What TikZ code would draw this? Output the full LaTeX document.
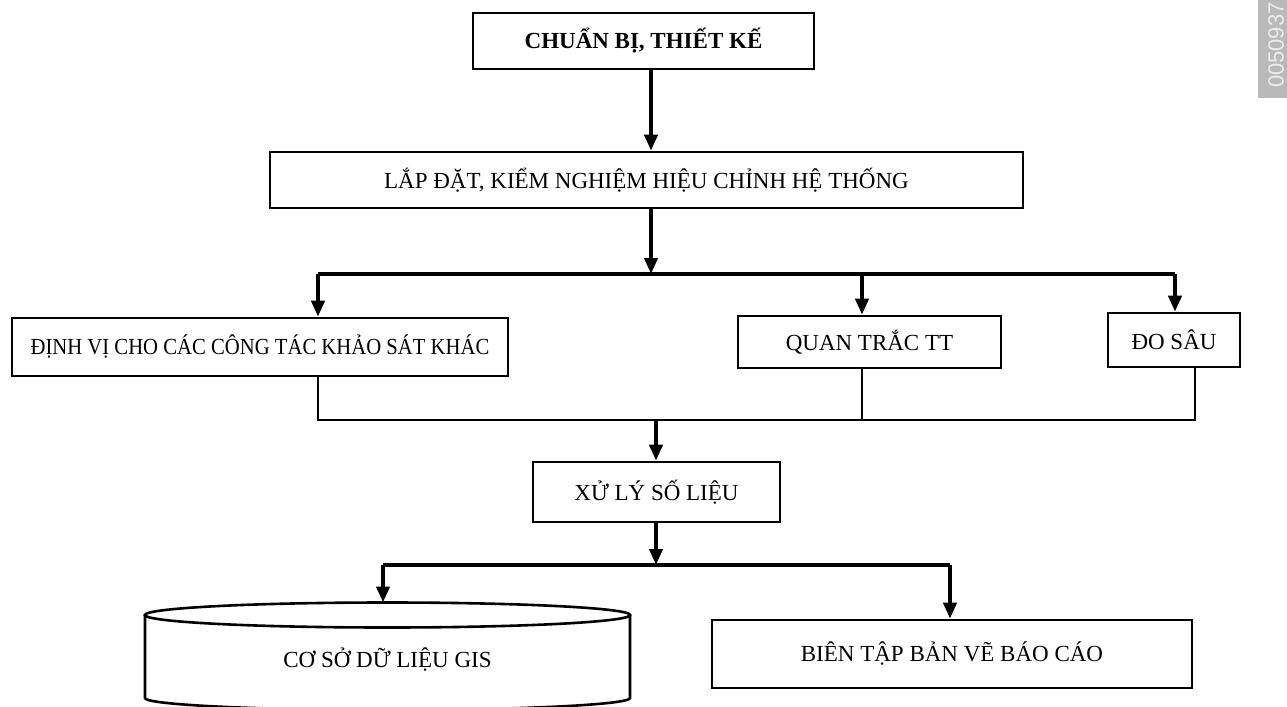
\documentclass[tikz,border=0pt]{standalone}
\usepackage{fontspec}
\setmainfont{Liberation Serif}
\setsansfont{Liberation Sans}
\newfontfamily\condserif[FakeStretch=0.9]{Liberation Serif}
\usetikzlibrary{arrows.meta}
\begin{document}
\begin{tikzpicture}[x=0.5pt,y=-0.5pt,
  box/.style={draw,line width=1.3pt,inner sep=0pt,font=\fontsize{11.5}{13}\selectfont},
  arr/.style={line width=2pt,-{Triangle[length=8pt,width=6.5pt]}},
  thickline/.style={line width=2pt},
  thinline/.style={line width=1pt}]
\useasboundingbox (0,0) rectangle (1287,707);
\clip (0,0) rectangle (1287,707);
% watermark strip
\fill[gray!55] (1258,0) rectangle (1287,98);
\node[rotate=90,anchor=west,text=white!85!gray,font=\sffamily\fontsize{11}{12}\selectfont] (wm) at (1276,95) {0050937};
% boxes
\node[box,minimum width=170.5pt,minimum height=28pt,font=\bfseries\fontsize{11.5}{13}\selectfont] (b1) at (643.5,41) {CHUẨN BỊ, THIẾT KẾ};
\node[box,minimum width=376.5pt,minimum height=28pt] (b2) at (646.5,180) {LẮP ĐẶT, KIỂM NGHIỆM HIỆU CHỈNH HỆ THỐNG};
\node[box,minimum width=248pt,minimum height=29pt,font=\condserif\fontsize{11.5}{13}\selectfont] (b3) at (260,347) {ĐỊNH VỊ CHO CÁC CÔNG TÁC KHẢO SÁT KHÁC};
\node[box,minimum width=131.5pt,minimum height=26pt] (b4) at (869.5,342) {QUAN TRẮC TT};
\node[box,minimum width=66pt,minimum height=27pt] (b5) at (1174,340) {ĐO SÂU};
\node[box,minimum width=123.5pt,minimum height=30pt] (b6) at (656.5,492) {XỬ LÝ SỐ LIỆU};
\node[box,minimum width=240pt,minimum height=34pt] (b7) at (952,654) {BIÊN TẬP BẢN VẼ BÁO CÁO};
% cylinder
\draw[line width=1.3pt] (387.5,615) ellipse [x radius=242.5, y radius=12.5];
\draw[line width=1.3pt] (145,615) -- (145,698) arc [start angle=180,end angle=0,x radius=242.5,y radius=12] -- (630,615);
\coordinate (cyltop) at (383,602.5);
\node[font=\fontsize{11.5}{13}\selectfont] (gis) at (387.5,660) {CƠ SỞ DỮ LIỆU GIS};
% bus coordinates
\coordinate (busA) at (318,274);
\coordinate (busB) at (1175,274);
\coordinate (busM) at (651,274);
\coordinate (colL) at (318,420);
\coordinate (colR) at (1195,420);
\coordinate (colM) at (656,420);
\coordinate (bus2L) at (383,565);
\coordinate (bus2R) at (950,565);
\coordinate (bus2M) at (656,565);
% connectors
\draw[arr] (b1.south -| 651,0) -- (b2.north -| 651,0);
\draw[arr] (b2.south -| busM) -- (busM);
\draw[thickline] (busA) -- (busB);
\draw[arr] (busA) -- (busA |- b3.north);
\draw[arr] (busA -| 862,0) -- (b4.north -| 862,0);
\draw[arr] (busB) -- (busB |- b5.north);
\draw[thinline] (b3.south -| colL) -- (colL) -- (colR) -- (colR |- b5.south);
\draw[thinline] (b4.south -| 862,0) -- (colL -| 862,0);
\draw[arr] (colM) -- (colM |- b6.north);
\draw[arr] (b6.south -| bus2M) -- (bus2M);
\draw[thickline] (bus2L) -- (bus2R);
\draw[arr] (bus2L) -- (cyltop);
\draw[arr] (bus2R) -- (bus2R |- b7.north);
\end{tikzpicture}
\end{document}
